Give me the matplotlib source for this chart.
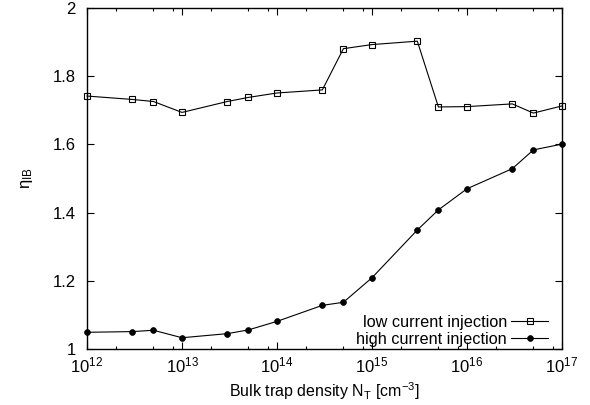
import matplotlib
matplotlib.use("Agg")
import matplotlib.pyplot as plt
from matplotlib.ticker import LogLocator, FixedLocator, FixedFormatter

plt.rcParams['font.family'] = ['Liberation Sans', 'DejaVu Sans']
plt.rcParams['mathtext.fontset'] = 'custom'
plt.rcParams['mathtext.rm'] = 'Liberation Sans'
plt.rcParams['mathtext.it'] = 'Liberation Sans:italic'
plt.rcParams['mathtext.default'] = 'regular'

trap_density = [1e12, 3e12, 5e12, 1e13, 3e13, 5e13, 1e14, 3e14, 5e14,
                1e15, 3e15, 5e15, 1e16, 3e16, 5e16, 1e17]
low_current = [1.742, 1.732, 1.726, 1.694, 1.726, 1.738, 1.751, 1.760, 1.881,
               1.893, 1.903, 1.710, 1.711, 1.719, 1.692, 1.713]
high_current = [1.049, 1.051, 1.055, 1.033, 1.045, 1.056, 1.081, 1.128, 1.137,
                1.209, 1.349, 1.408, 1.470, 1.529, 1.584, 1.601]

y_ticks = [1.0, 1.2, 1.4, 1.6, 1.8, 2.0]
y_tick_labels = ['1', '1.2', '1.4', '1.6', '1.8', '2']
x_ticks = [1e12, 1e13, 1e14, 1e15, 1e16, 1e17]
x_tick_labels = ['$10^{12}$', '$10^{13}$', '$10^{14}$', '$10^{15}$', '$10^{16}$', '$10^{17}$']

fig = plt.figure(figsize=(5.9, 4.05), dpi=100)
ax = fig.add_axes([0.1475, 0.1383, 0.805, 0.8417])

ax.plot(trap_density, low_current, color='black', lw=0.8, marker='s',
        markersize=5, markerfacecolor='none', markeredgewidth=0.8,
        label='low current injection', clip_on=False, zorder=3)
ax.plot(trap_density, high_current, color='black', lw=0.8, marker='o',
        markersize=4.2, markerfacecolor='black', markeredgewidth=0.5,
        label='high current injection', clip_on=False, zorder=3)

ax.set_xscale('log')
ax.set_xlim(1e12, 1e17)
ax.set_ylim(1.0, 2.0)

ax.xaxis.set_major_locator(FixedLocator(x_ticks))
ax.xaxis.set_major_formatter(FixedFormatter(x_tick_labels))
ax.xaxis.set_minor_locator(LogLocator(base=10, subs=[2.0, 5.0, 8.0], numticks=20))
ax.xaxis.set_minor_formatter(plt.NullFormatter())
ax.yaxis.set_major_locator(FixedLocator(y_ticks))
ax.yaxis.set_major_formatter(FixedFormatter(y_tick_labels))

ax.tick_params(axis='both', which='major', direction='in', length=5, width=0.8,
               top=True, right=True, labelsize=12, color='black')
ax.tick_params(axis='y', which='major', pad=8)
ax.tick_params(axis='x', which='major', pad=5)
ax.tick_params(axis='x', which='minor', direction='in', length=2.5, width=0.8,
               top=True, bottom=True)

for s in ax.spines.values():
    s.set_linewidth(1.0)

ax.set_xlabel('Bulk trap density N$_T$ [cm$^{-3}$]', fontsize=11.5, labelpad=3)
ax.set_ylabel('$\\eta_{IB}$', fontsize=12, labelpad=13)

leg = ax.legend(loc='lower right', frameon=False, markerfirst=False,
                fontsize=11.7, handlelength=2.3, handletextpad=0.25,
                labelspacing=0.12, borderaxespad=0.0, bbox_to_anchor=(0.985, -0.012))

fig.savefig('out.png', dpi=100)
